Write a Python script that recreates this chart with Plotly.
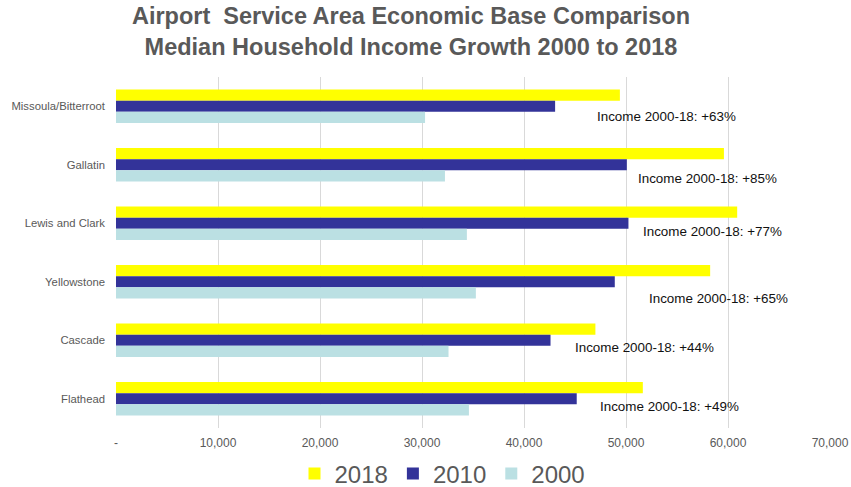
import plotly.graph_objects as go

# Median household income by airport service area
areas = ["Missoula/Bitterroot", "Gallatin", "Lewis and Clark",
         "Yellowstone", "Cascade", "Flathead"]
income_2018 = [49400, 59600, 60900, 58250, 47000, 51650]
income_2010 = [43050, 50080, 50240, 48900, 42600, 45170]
income_2000 = [30300, 32250, 34400, 35280, 32600, 34600]

x_tick_vals = [0, 10000, 20000, 30000, 40000, 50000, 60000, 70000]
x_tick_text = ["-", "10,000", "20,000", "30,000", "40,000", "50,000", "60,000", "70,000"]

# Placement of the growth call-outs (x in data units, y offset in category units)
label_x = [46970, 50990, 51480, 52060, 44840, 47250]
label_dy = [0.18, 0.24, 0.14, 0.29, 0.13, 0.13]

FONT = "Liberation Sans, Arial, sans-serif"
GRAY = "#595959"

series = [
    ("2018", income_2018, "#FFFF00"),
    ("2010", income_2010, "#333399"),
    ("2000", income_2000, "#BBE0E3"),
]

fig = go.Figure()
for name, vals, color in series:
    fig.add_trace(go.Bar(
        y=areas, x=vals, name=name, orientation="h",
        marker=dict(color=color, line=dict(width=0)),
        hoverinfo="x+name",
    ))

annotations = []
for i, area in enumerate(areas):
    growth = round((income_2018[i] / income_2000[i] - 1) * 100)
    annotations.append(dict(
        x=label_x[i], y=i + label_dy[i], xref="x", yref="y",
        text=f"Income 2000-18: +{growth}%", showarrow=False,
        xanchor="left", yanchor="middle",
        font=dict(family=FONT, size=13.4, color="#111111"),
    ))

fig.update_layout(
    width=851, height=487,
    margin=dict(l=115.7, r=21, t=77, b=58.7, autoexpand=False),
    paper_bgcolor="white", plot_bgcolor="white",
    barmode="group", bargap=0.43, bargroupgap=0,
    title=dict(
        text="Airport  Service Area Economic Base Comparison<br>Median Household Income Growth 2000 to 2018",
        x=411 / 851, xanchor="center", xref="container",
        y=1 - 24 / 487, yanchor="top", yref="container",
        font=dict(family=FONT, size=23.5, color=GRAY, weight="bold"),
    ),
    xaxis=dict(
        range=[0, 70000], tickvals=x_tick_vals, ticktext=x_tick_text,
        showgrid=True, gridcolor="#D9D9D9", gridwidth=1, zeroline=False,
        showline=False, ticks="", ticklabelstandoff=6, automargin=False,
        tickfont=dict(family=FONT, size=12, color=GRAY), fixedrange=True,
    ),
    yaxis=dict(
        autorange="reversed", type="category", showgrid=False,
        zeroline=False, showline=False, ticks="", ticklabelstandoff=10,
        automargin=False,
        tickfont=dict(family=FONT, size=11.3, color=GRAY), fixedrange=True,
    ),
    legend=dict(
        orientation="h", xref="container", yref="container",
        x=294.5 / 851, xanchor="left", y=1 - 474 / 487, yanchor="middle",
        font=dict(family=FONT, size=24, color=GRAY),
        bgcolor="rgba(0,0,0,0)", borderwidth=0, traceorder="normal",
    ),
    annotations=annotations,
    showlegend=True,
)

fig.write_html("out.html")
